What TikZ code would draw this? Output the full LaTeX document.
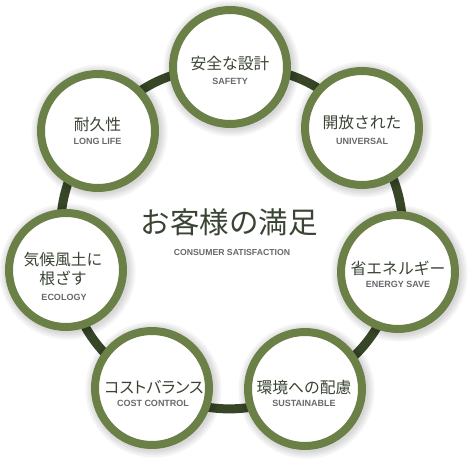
\documentclass[tikz,border=0pt]{standalone}
\usepackage{fontspec}
\newfontfamily\jpfont{Noto Sans CJK JP}
\newfontfamily\jppfont[RawFeature=+palt]{Noto Sans CJK JP}
\newfontfamily\enfont{Liberation Sans}
\definecolor{ringgreen}{RGB}{106,128,70}
\definecolor{linkgreen}{RGB}{56,70,40}
\definecolor{jptext}{RGB}{58,68,52}
\definecolor{entext}{RGB}{105,105,105}
\tikzset{
  x=1pt, y=-1pt,
  bubble/.style={circle, draw=ringgreen, line width=8pt, fill=white, minimum size=114pt, inner sep=0pt},
  halo/.style={circle, fill=black, opacity=0.04, inner sep=0pt},
  link/.style={draw=linkgreen, line width=9pt},
  jp/.style={font=\jpfont\fontsize{15.8}{18}\selectfont, text=jptext, inner sep=0pt, align=center},
  en/.style={font=\enfont\bfseries\fontsize{9}{10}\selectfont, text=entext, inner sep=0pt},
}
\begin{document}
\begin{tikzpicture}
\useasboundingbox[fill=white] (0,0) rectangle (470,462);
% centre positions
\coordinate (p1) at (230,67);
\coordinate (p2) at (362,128);
\coordinate (p3) at (398,272);
\coordinate (p4) at (305,389);
\coordinate (p5) at (152,388);
\coordinate (p6) at (66,270);
\coordinate (p7) at (98,131);
% connectors
\path[link] (p1) to[bend left=26] (p2);
\path[link] (p2) to[bend left=26] (p3);
\path[link] (p3) to[bend left=26] (p4);
\path[link] (p4) to[bend left=27] (p5);
\path[link] (p5) to[bend left=26] (p6);
\path[link] (p6) to[bend left=26] (p7);
\path[link] (p7) to[bend left=26] (p1);
% soft shadows
\foreach \p in {p1,p2,p3,p4,p5,p6,p7}{
  \foreach \s in {124,128,132,136}{
    \node[halo, minimum size=\s pt] at ([xshift=1.5pt,yshift=-1.5pt]\p) {};
  }
}
% circles
\node[bubble] (c1) at (p1) {};
\node[bubble] (c2) at (p2) {};
\node[bubble] (c3) at (p3) {};
\node[bubble] (c4) at (p4) {};
\node[bubble] (c5) at (p5) {};
\node[bubble] (c6) at (p6) {};
\node[bubble] (c7) at (p7) {};
% texts
\node[jp] (j1) at (230,63) {安全な設計};
\node[en] (e1) at (230,81) {SAFETY};
\node[jp] (j2) at (362,123) {開放された};
\node[en] (e2) at (362,141) {UNIVERSAL};
\node[jp] (j3) at (398,268) {省エネルギー};
\node[en] (e3) at (398,284) {ENERGY SAVE};
\node[jp] (j4) at (304,387) {環境への配慮};
\node[en] (e4) at (304,403) {SUSTAINABLE};
\node[jp, font=\jppfont\fontsize{16}{18}\selectfont] (j5) at (154,387) {コストバランス};
\node[en] (e5) at (153,403) {COST CONTROL};
\node[jp, font=\jpfont\fontsize{15.8}{18.5}\selectfont] (j6) at (63,269) {気候風土に\\根ざす};
\node[en] (e6) at (64,297) {ECOLOGY};
\node[jp] (j7) at (97.5,125) {耐久性};
\node[en] (e7) at (97.5,141) {LONG LIFE};
% title
\node[jp, font=\jpfont\fontsize{29.5}{32}\selectfont] (title) at (229,222) {お客様の満足};
\node[en, font=\enfont\bfseries\fontsize{8.7}{10}\selectfont] (subtitle) at (232,253) {CONSUMER SATISFACTION};
\end{tikzpicture}
\end{document}
